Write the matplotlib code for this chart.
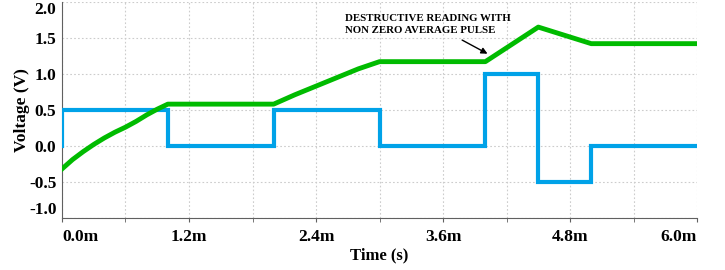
import matplotlib
matplotlib.use('Agg')
import matplotlib.pyplot as plt

# input pulse (blue), time in ms
pulse_t = [0.0, 0.0, 1.0, 1.0, 2.0, 2.0, 3.0, 3.0, 4.0, 4.0, 4.5, 4.5, 5.0, 5.0, 6.0]
pulse_v = [0.0, 0.5, 0.5, 0.0, 0.0, 0.5, 0.5, 0.0, 0.0, 1.0, 1.0, -0.5, -0.5, 0.0, 0.0]

# output voltage (green)
out_t = [0.0, 0.1, 0.2, 0.3, 0.4, 0.5, 0.6, 0.7, 0.8, 0.9, 1.0,
         2.0, 2.2, 2.4, 2.6, 2.8, 3.0, 4.0, 4.5, 5.0, 6.0]
out_v = [-0.32, -0.19, -0.08, 0.02, 0.11, 0.19, 0.26, 0.34, 0.43, 0.51, 0.58,
         0.58, 0.71, 0.83, 0.95, 1.07, 1.17, 1.17, 1.65, 1.42, 1.42]

xticks = [0.0, 1.2, 2.4, 3.6, 4.8, 6.0]
xtick_labels = ['0.0m', '1.2m', '2.4m', '3.6m', '4.8m', '6.0m']
yticks = [-1.0, -0.5, 0.0, 0.5, 1.0, 1.5, 2.0]

plt.rcParams['font.family'] = 'Liberation Serif'
plt.rcParams['font.weight'] = 'bold'

fig = plt.figure(figsize=(7.25, 2.7), dpi=100)
ax = fig.add_axes([0.0855, 0.193, 0.876, 0.8])

ax.plot(pulse_t, pulse_v, color='#00a2e8', lw=3.0, solid_joinstyle='miter', zorder=3)
ax.plot(out_t, out_v, color='#00bb00', lw=3.5, solid_joinstyle='round', zorder=4)

ax.set_xlim(0, 6.0)
ax.set_ylim(-1.0, 2.0)
ax.set_xticks(xticks)
ax.set_xticks([0.6, 1.8, 3.0, 4.2, 5.4], minor=True)
ax.set_xticklabels(xtick_labels, fontsize=12.5, fontweight='bold')
ax.set_yticks(yticks)
ax.set_yticklabels(['%.1f' % v for v in yticks], fontsize=12.5, fontweight='bold')
labs = ax.get_xticklabels()
labs[0].set_ha('left')
labs[-1].set_ha('right')
ylabs = ax.get_yticklabels()
ylabs[0].set_va('bottom')
ylabs[-1].set_va('top')

ax.grid(True, which='both', color='#cccccc', linestyle=(0, (1.5, 2)), lw=0.8)
ax.tick_params(axis='x', which='both', length=3, pad=5, color='#606060')
ax.tick_params(axis='y', length=0, pad=4)
ax.spines['top'].set_visible(False)
ax.spines['right'].set_visible(False)
ax.spines['left'].set_color('#606060')
ax.spines['bottom'].set_color('#606060')

ax.set_xlabel('Time (s)', fontsize=12, fontweight='bold', labelpad=2)
ax.set_ylabel('Voltage (V)', fontsize=12.5, fontweight='bold')
ax.yaxis.set_label_coords(-0.05, 0.5)

ax.text(2.67, 1.83, 'DESTRUCTIVE READING WITH\nNON ZERO AVERAGE PULSE',
        fontsize=7.8, fontweight='bold', va='top', ha='left', linespacing=1.35)
ax.annotate('', xy=(4.02, 1.28), xytext=(3.78, 1.47),
            arrowprops=dict(arrowstyle='-|>', color='black', lw=1.0, shrinkA=0, shrinkB=0,
                            mutation_scale=9))

fig.savefig('out.png', dpi=100)
